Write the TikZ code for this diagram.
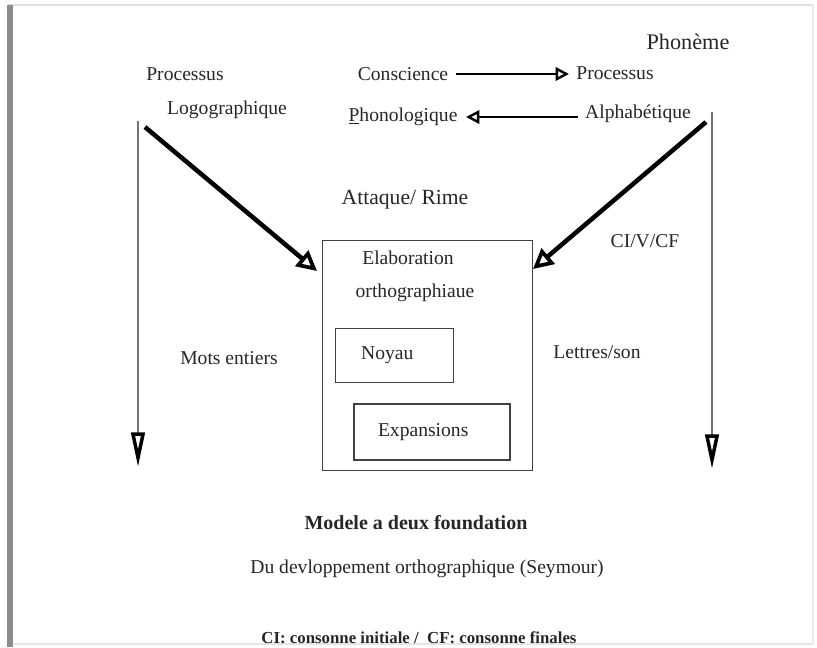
\documentclass[tikz,border=0pt]{standalone}
\usepackage{fontspec}
\setmainfont{Liberation Serif}
\usetikzlibrary{arrows.meta}
\begin{document}
\begin{tikzpicture}[x=0.75pt,y=-0.75pt,
  txt/.style={inner sep=0pt,text=black!85,font=\fontsize{14.7}{16}\selectfont},
  boxed/.style={draw=black!75,line width=0.8pt},
  thin arr/.style={line width=1.5pt,-{Triangle[open,length=10pt,width=10pt,line width=1.8pt]}},
  big arr/.style={line width=3.4pt,-{Triangle[open,length=15pt,width=15pt,line width=2.8pt]}},
  vert arr/.style={draw=black!55,line width=1.2pt,-{Triangle[open,length=26pt,width=10pt,line width=2.6pt,color=black]}}]
\useasboundingbox (0,0) rectangle (817,647);
% frame
\draw[black!12,line width=2.2pt] (8,5) -- (813,5);
\draw[black!8,line width=1.5pt] (813,5) -- (813,644);
\draw[black!10,line width=2pt] (14,644) -- (813,644);
\draw[black!45,line width=4pt] (10,5) -- (10,647);
% texts
\node[txt,font=\fontsize{16.7}{18}\selectfont] (phon) at (688,42) {Phonème};
\node[txt] (procL) at (185,74) {Processus};
\node[txt] (logo) at (227,110) {Logographique};
\node[txt] (consc) at (403,74) {Conscience};
\node[txt] (procR) at (615,73) {Processus};
\node[txt] (phono) at (403,117) {\underline{P}honologique};
\node[txt] (alpha) at (638,114) {Alphabétique};
\node[txt,font=\fontsize{16.2}{18}\selectfont] (att) at (405,200) {Attaque/ Rime};
\node[txt] (civ) at (645,241) {CI/V/CF};
\node[txt] (mots) at (229,358) {Mots entiers};
\node[txt] (lett) at (597,352) {Lettres/son};
% boxes
\node[boxed,minimum width=158pt,minimum height=173pt,inner sep=0pt] (big) at (427.5,355.5) {};
\node[txt] (elab) at (408,258) {Elaboration};
\node[txt] (ortho) at (415,293) {orthographiaue};
\node[boxed,minimum width=88pt,minimum height=40pt,txt,text width=80pt] (noy) at (394.5,355.5) {\hspace{15pt}Noyau};
\node[boxed,minimum width=117pt,minimum height=42pt,txt,text width=110pt] (exp) at (432,432) {\hspace{14.5pt}Expansions};
\node[txt,font=\fontsize{15}{17}\selectfont\bfseries] (title) at (416,523) {Modele a deux foundation};
\node[txt] (sub) at (427,569) {Du devloppement orthographique (Seymour)};
\node[txt,font=\fontsize{12.6}{14}\selectfont\bfseries] (leg) at (419,638) {CI: consonne initiale /\ \ CF: consonne finales};
% horizontal arrows
\coordinate (c1s) at (456,74); \coordinate (c1e) at (569,74);
\draw[thin arr] (c1s) -- (c1e);
\coordinate (c2s) at (578,117); \coordinate (c2e) at (466,117);
\draw[thin arr] (c2s) -- (c2e);
% diagonal arrows
\coordinate (dLs) at (145,127); \coordinate (dLe) at (317,271);
\draw[big arr] (dLs) -- (dLe);
\coordinate (dRs) at (706,122); \coordinate (dRe) at (533,269);
\draw[big arr] (dRs) -- (dRe);
% vertical arrows
\coordinate (vLs) at (138,121); \coordinate (vLe) at (138,467);
\draw[vert arr] (vLs) -- (vLe);
\coordinate (vRs) at (712,112); \coordinate (vRe) at (712,469);
\draw[vert arr] (vRs) -- (vRe);
\end{tikzpicture}
\end{document}
